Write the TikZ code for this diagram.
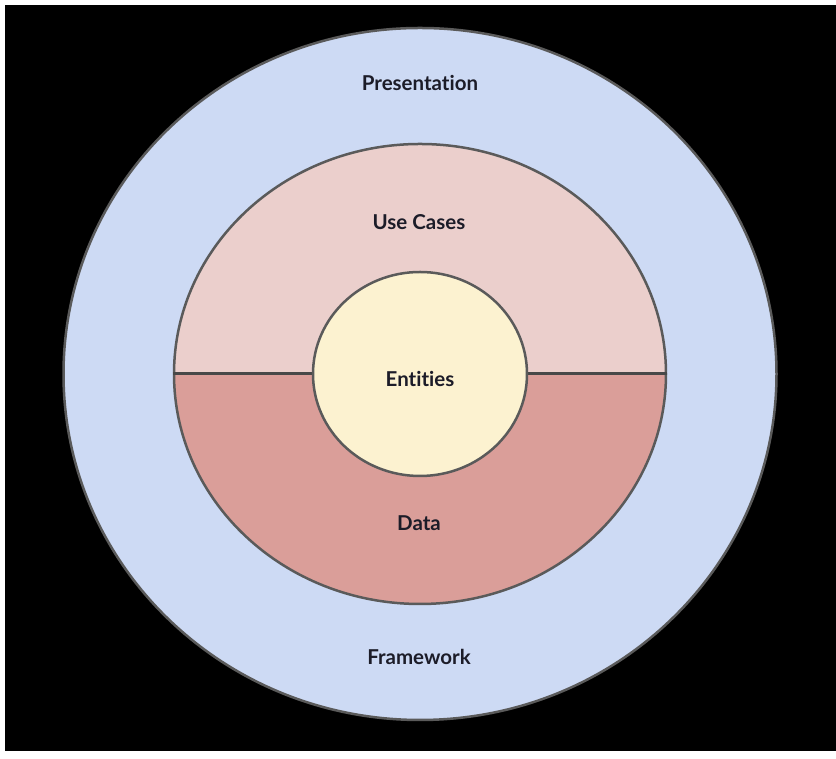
\documentclass[tikz,border=0pt]{standalone}
\usepackage{fontspec}
\setmainfont{Lato}[Ligatures={NoCommon}]
\usepackage{xcolor}
\usetikzlibrary{shapes.geometric,positioning}

\definecolor{frameblue}{HTML}{CDDAF4}
\definecolor{casepink}{HTML}{EBCFCC}
\definecolor{datared}{HTML}{DA9E99}
\definecolor{entityyellow}{HTML}{FCF2D0}
\definecolor{ringgray}{HTML}{5A5A5A}
\definecolor{labelink}{HTML}{1C1C28}

\begin{document}
\begin{tikzpicture}[
    x=1pt, y=1pt,
    font=\fontsize{20.5}{24}\selectfont\bfseries,
    ring/.style={ellipse, draw=ringgray, line width=2.5pt, inner sep=0pt},
    split/.style={draw=ringgray!80!black, line width=3pt},
    layername/.style={text=labelink, inner sep=1pt}
  ]
    \useasboundingbox[fill=white] (0,0) rectangle (836,759);
    \fill[black] (5,8) rectangle (836,754);
    % layers from outside to inside
    \node[ring, fill=frameblue, minimum width=713pt, minimum height=692pt]
      (outer) at (420,385) {};
    \node[ring, minimum width=492pt, minimum height=460pt,
      path picture={
        \fill[casepink] (path picture bounding box.west)
          rectangle (path picture bounding box.north east);
        \fill[datared] (path picture bounding box.west)
          rectangle (path picture bounding box.south east);
      }] (middle) at (420,385) {};
    \draw[split] (middle.west) -- (middle.east);
    \node[ring, fill=entityyellow, minimum width=214pt, minimum height=204pt]
      (inner) at (420,385) {};
    % labels
    \node[layername] (presentation) at (420,676) {Presentation};
    \node[layername] (usecases) at (419,537) {Use Cases};
    \node[layername] (entities) at (420,380) {Entities};
    \node[layername] (data) at (419,236) {Data};
    \node[layername] (framework) at (419,102) {Framework};
  \end{tikzpicture}
\end{document}
